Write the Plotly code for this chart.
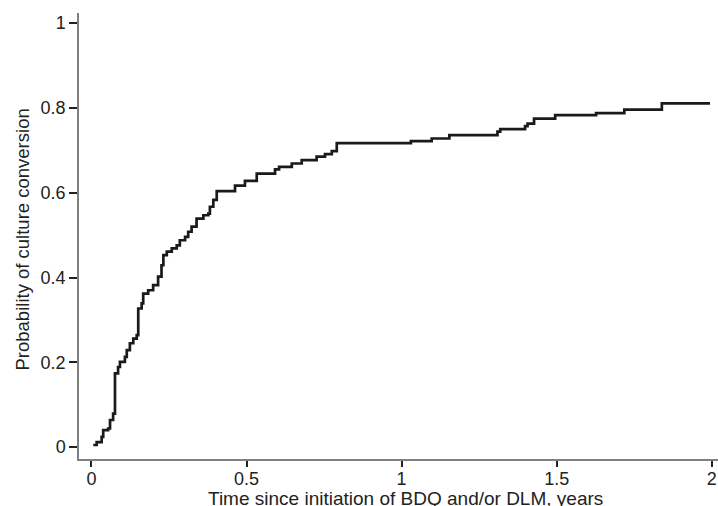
import plotly.graph_objects as go

# Kaplan-Meier style step curve (time in years, cumulative probability of culture conversion)
time_years = [0.006, 0.017, 0.033, 0.038, 0.054, 0.060, 0.070, 0.076, 0.086, 0.092,
              0.108, 0.114, 0.124, 0.135, 0.146, 0.151, 0.162, 0.167, 0.183, 0.199,
              0.215, 0.226, 0.232, 0.243, 0.259, 0.275, 0.285, 0.302, 0.312, 0.323,
              0.339, 0.361, 0.377, 0.382, 0.393, 0.404, 0.463, 0.495, 0.533, 0.592,
              0.605, 0.646, 0.678, 0.726, 0.753, 0.775, 0.791, 1.030, 1.097, 1.154,
              1.309, 1.318, 1.398, 1.406, 1.427, 1.495, 1.627, 1.718, 1.839, 1.990]
probability = [0.005, 0.012, 0.024, 0.040, 0.044, 0.064, 0.079, 0.174, 0.189, 0.201,
               0.213, 0.229, 0.245, 0.256, 0.264, 0.327, 0.339, 0.362, 0.370, 0.382,
               0.402, 0.429, 0.453, 0.461, 0.469, 0.476, 0.488, 0.496, 0.508, 0.520,
               0.539, 0.547, 0.551, 0.567, 0.583, 0.604, 0.617, 0.628, 0.645, 0.655,
               0.661, 0.669, 0.677, 0.685, 0.691, 0.698, 0.717, 0.722, 0.728, 0.736,
               0.744, 0.750, 0.757, 0.763, 0.775, 0.783, 0.788, 0.796, 0.811, 0.814]

x_ticks = [0, 0.5, 1, 1.5, 2]
x_tick_labels = ["0", "0.5", "1", "1.5", "2"]
y_ticks = [0, 0.2, 0.4, 0.6, 0.8, 1]
y_tick_labels = ["0", "0.2", "0.4", "0.6", "0.8", "1"]
x_title = "Time since initiation of BDQ and/or DLM, years"
y_title = "Probability of culture conversion"

font_family = "Liberation Sans, Arial, sans-serif"
text_color = "#222222"

fig = go.Figure()
fig.add_trace(go.Scatter(
    x=time_years, y=probability, mode="lines",
    line=dict(color="#1a1a1a", width=2.7, shape="hv"),
    showlegend=False, hoverinfo="x+y",
))

axis_common = dict(
    showgrid=False, zeroline=False,
    showline=True, linecolor="#808080", linewidth=1.5,
    ticks="outside", tickwidth=1.5, tickcolor=text_color,
    tickfont=dict(family=font_family, size=18, color=text_color),
    mirror=False, automargin=False,
)

fig.update_layout(
    width=718, height=506,
    margin=dict(l=79, r=0, t=13, b=47),
    paper_bgcolor="white", plot_bgcolor="white",
    font=dict(family=font_family, size=18, color=text_color),
    xaxis=dict(
        range=[-0.04, 2.02],
        tickvals=x_ticks, ticktext=x_tick_labels,
        ticklen=6, ticklabelstandoff=-3,
        **axis_common,
    ),
    yaxis=dict(
        range=[-0.028, 1.024],
        tickvals=y_ticks, ticktext=y_tick_labels,
        ticklen=8,
        **axis_common,
    ),
    annotations=[
        dict(text=x_title, xref="paper", yref="paper", x=0.5117, y=0,
             xanchor="center", yanchor="top", yshift=-27, showarrow=False,
             font=dict(family=font_family, size=19, color=text_color)),
        dict(text=y_title, xref="paper", yref="paper", x=0, y=0.5,
             xanchor="center", yanchor="middle", xshift=-57.5, yshift=-4,
             textangle=-90, showarrow=False,
             font=dict(family=font_family, size=18.5, color=text_color)),
    ],
)

fig.write_html(
    "out.html",
    config={"displayModeBar": False},
    post_script="document.body.style.margin='0px';document.body.style.overflow='hidden';",
)
